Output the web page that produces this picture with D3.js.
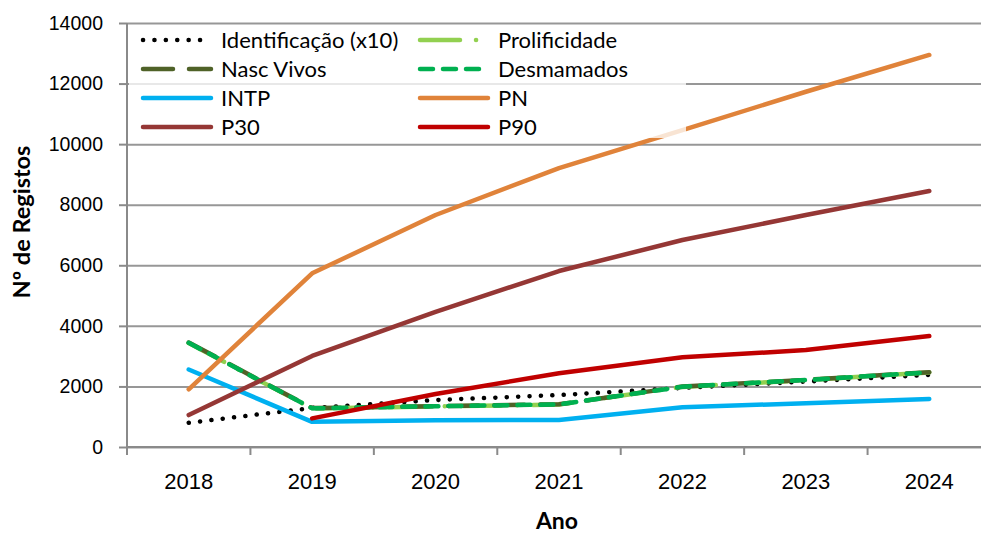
<!DOCTYPE html>
<html lang="pt">
<head>
  <meta charset="UTF-8">
  <title>Nº de Registos por Ano</title>
  <script src="https://d3js.org/d3.v7.min.js"></script>
  <style>
    body { margin: 0; background: #fff; }
    svg { display: block; font-family: Lato, "Open Sans", sans-serif; }
    .grid line { stroke: #979797; stroke-width: 2px; }
    .grid path { display: none; }
    .axis path, .axis line { stroke: #8a8a8a; stroke-width: 2px; }
    .axis text { fill: #000; }
    .y.axis text { font-size: 19.5px; }
    .x.axis text { font-size: 22px; }
    .series { fill: none; stroke-width: 4.5px; stroke-linejoin: round; stroke-linecap: round; }
  </style>
</head>
<body>
<div id="chart"></div>
<script>
  // data
  const years = ["2018", "2019", "2020", "2021", "2022", "2023", "2024"];
  const yTicks = [0, 2000, 4000, 6000, 8000, 10000, 12000, 14000];

  const identificacao = [800, 1290, 1550, 1715, 1950, 2160, 2380];
  const prolificidade = [3430, 1270, 1340, 1400, 1985, 2205, 2460];
  const nascVivos     = [3450, 1285, 1350, 1410, 1995, 2215, 2470];
  const desmamados    = [3440, 1277, 1345, 1405, 1990, 2210, 2466];
  const intp = [2560, 830, 885, 890, 1310, 1445, 1585];
  const pn   = [1905, 5735, 7660, 9210, 10465, 11730, 12945];
  const p30  = [1055, 3005, 4465, 5810, 6835, 7660, 8455];
  const p90  = [null, 945, 1750, 2435, 2960, 3200, 3665];

  const series = [
    { name: "Identificação (x10)", values: identificacao, color: "#000000", dash: "0.1,11.3", width: 5 },
    { name: "Prolificidade", values: prolificidade, color: "#92D050", dash: "40,16,0.1,16", width: 4.5 },
    { name: "Nasc Vivos", values: nascVivos, color: "#4F6228", dash: "30,16", width: 4.5 },
    { name: "Desmamados", values: desmamados, color: "#00B050", dash: "13,10", width: 4.5 },
    { name: "INTP", values: intp, color: "#00B0F0", dash: null, width: 4.5 },
    { name: "PN", values: pn, color: "#E0833A", dash: null, width: 4.5 },
    { name: "P30", values: p30, color: "#953735", dash: null, width: 4.5 },
    { name: "P90", values: p90, color: "#C00000", dash: null, width: 4.5 }
  ];

  const width = 981, height = 534;
  const plotLeft = 127, plotRight = 991, plotTop = 23, plotBottom = 447;

  const svg = d3.select("#chart").append("svg")
    .attr("width", width)
    .attr("height", height);

  const x = d3.scaleBand().domain(years).range([plotLeft, plotRight]).padding(0);
  const y = d3.scaleLinear().domain([0, 14000]).range([plotBottom, plotTop]);
  const cx = d => x(d) + x.bandwidth() / 2;

  // gridlines
  svg.append("g")
    .attr("class", "grid")
    .attr("transform", `translate(${plotLeft},0)`)
    .call(d3.axisLeft(y).tickValues(yTicks).tickSize(-(plotRight - plotLeft)).tickFormat(""));

  // y axis
  svg.append("g")
    .attr("class", "y axis")
    .attr("transform", `translate(${plotLeft},0)`)
    .call(d3.axisLeft(y).tickValues(yTicks).tickSize(8).tickPadding(16).tickFormat(d3.format("d")))
    .call(g => g.select(".domain").attr("d", `M0,${plotBottom}V${plotTop}`));

  // x axis: labels centred, ticks between categories
  const xAxis = svg.append("g")
    .attr("class", "x axis")
    .attr("transform", `translate(0,${plotBottom})`)
    .call(d3.axisBottom(x).tickSize(0).tickPadding(26))
    .call(g => g.select(".domain").attr("d", `M${plotLeft},0H${plotRight}`));

  xAxis.selectAll("line.sep")
    .data(years.map(d => x(d)).concat([plotRight]))
    .enter().append("line")
    .attr("class", "sep")
    .attr("x1", d => d).attr("x2", d => d)
    .attr("y1", 0).attr("y2", 8);

  // lines
  const line = d3.line()
    .defined(d => d.v != null)
    .x(d => cx(d.year))
    .y(d => y(d.v));

  svg.append("g").selectAll("path")
    .data(series)
    .enter().append("path")
    .attr("class", "series")
    .attr("stroke", d => d.color)
    .attr("stroke-width", d => d.width)
    .attr("stroke-dasharray", d => d.dash)
    .attr("d", d => line(d.values.map((v, i) => ({ year: years[i], v: v }))));

  // legend
  const legend = svg.append("g");
  legend.append("rect")
    .attr("x", 129).attr("y", 25)
    .attr("width", 557).attr("height", 113)
    .attr("fill", "#fff")
    .attr("fill-opacity", 0.78);

  const colX = [143, 420], rowY = [40, 69, 98, 127];
  const item = legend.selectAll("g.item")
    .data(series)
    .enter().append("g")
    .attr("transform", (d, i) => `translate(${colX[i % 2]},${rowY[Math.floor(i / 2)]})`);

  item.append("line")
    .attr("class", "series")
    .attr("x1", 0).attr("x2", 68)
    .attr("stroke", d => d.color)
    .attr("stroke-width", d => d.width)
    .attr("stroke-dasharray", d => d.dash);

  item.append("text")
    .attr("x", 78)
    .attr("dy", "0.36em")
    .style("font-size", "22px")
    .text(d => d.name);

  // axis titles
  svg.append("text")
    .attr("x", (plotLeft + plotRight) / 2 - 2)
    .attr("y", 521)
    .attr("text-anchor", "middle")
    .attr("dy", "0.36em")
    .style("font-size", "23px")
    .style("font-weight", "bold")
    .text("Ano");

  svg.append("text")
    .attr("transform", "translate(22,222) rotate(-90)")
    .attr("text-anchor", "middle")
    .attr("dy", "0.36em")
    .style("font-size", "23.5px")
    .style("font-weight", "bold")
    .text("Nº de Registos");
</script>
</body>
</html>
